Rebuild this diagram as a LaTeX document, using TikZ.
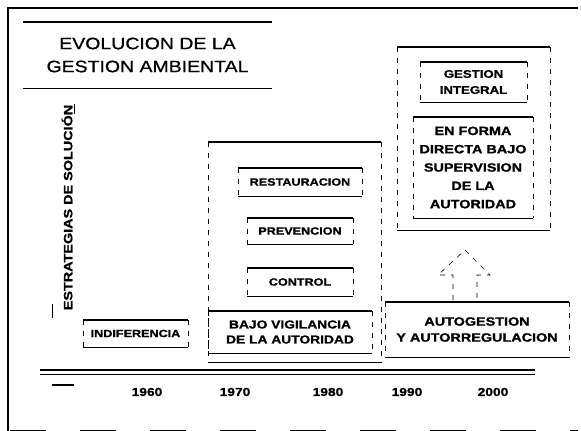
\documentclass[tikz,border=0pt]{standalone}
\usepackage{fontspec}
\setmainfont{Liberation Sans}[FakeStretch=1.2,BoldFeatures={FakeBold=1.2}]
\newfontfamily\titlefont{Liberation Sans}[FakeStretch=1.18,FakeBold=0.8]
\usetikzlibrary{arrows.meta}

\begin{document}
\begin{tikzpicture}[x=1pt,y=-1pt,>=Stealth,
 every node/.style={font=\bfseries\fontsize{11.5}{15}\selectfont,align=center,inner sep=0pt},
 small/.style={font=\bfseries\fontsize{10.5}{13}\selectfont},
 rule/.style={line width=1.4pt},
 side/.style={line width=0.6pt,dash pattern=on 5pt off 6pt}]
\useasboundingbox (0,0) rectangle (581,431);
\node[minimum width=249pt,minimum height=66pt,font=\titlefont\fontsize{16.5}{23}\selectfont] (titulo) at (147.5,55) {EVOLUCION DE LA\\GESTION AMBIENTAL};
\node[rotate=90,font=\bfseries\fontsize{12}{14}\selectfont] (estrategias) at (67,207.5) {ESTRATEGIAS DE SOLUCIÓN};
\node[small,minimum width=105pt,minimum height=27pt] (indif) at (135.5,333.5) {INDIFERENCIA};
\node[minimum width=164pt,minimum height=42pt] (bajo) at (290,332) {BAJO VIGILANCIA\\DE LA AUTORIDAD};
\node[small,minimum width=124pt,minimum height=28pt] (rest) at (300,182) {RESTAURACION};
\node[small,minimum width=106pt,minimum height=26pt] (prev) at (300,231) {PREVENCION};
\node[small,minimum width=106pt,minimum height=28pt] (ctrl) at (300,282) {CONTROL};
\node[minimum width=173pt,minimum height=220pt] (g70) at (294.5,252) {};
\node[font=\bfseries\fontsize{11}{16}\selectfont,minimum width=107pt,minimum height=40pt] (gest) at (473.5,82) {GESTION\\INTEGRAL};
\node[font=\bfseries\fontsize{12}{18.3}\selectfont,minimum width=120pt,minimum height=101pt] (forma) at (473,167.5) {EN FORMA\\DIRECTA BAJO\\SUPERVISION\\DE LA\\AUTORIDAD};
\node[minimum width=153pt,minimum height=183pt] (g90) at (473.5,138.5) {};
\node[font=\bfseries\fontsize{12}{16}\selectfont,minimum width=184pt,minimum height=55pt] (auto) at (477,329.5) {AUTOGESTION\\Y AUTORREGULACION};
\foreach \n in {titulo,indif,bajo,rest,prev,ctrl,g70,gest,forma,g90,auto}
 \draw[rule] (\n.north west) -- (\n.north east) (\n.south west) -- (\n.south east);
\foreach \n in {indif,bajo,rest,prev,ctrl,g70,gest,forma,g90,auto}
 \draw[side] (\n.north west) -- (\n.south west) (\n.north east) -- (\n.south east);
\draw[line width=1pt] (52,304) -- (52,318) (74,104) -- (74,114);
\draw[side] (453,300) -- (453,275) -- (438,275) -- (465,250) -- (490,275) -- (477,275) -- (477,300);
\coordinate (t0) at (40,370);
\coordinate (t1) at (535,370);
\draw[rule] (t0) -- (t1);
\draw[line width=1pt] ([yshift=-4.5pt]t0) -- ([yshift=-4.5pt]t1);
\draw[rule] (52,385) -- (74,385);
\foreach \yr/\x in {1960/147,1970/235,1980/328,1990/407,2000/493}
 \node (y\yr) at (\x,392) {\yr};
\draw[rule] (8,431) -- (8,8) -- (578,8);
\draw[line width=1pt,dash pattern=on 36pt off 34pt] (10,430) -- (578,430);
\end{tikzpicture}
\end{document}
